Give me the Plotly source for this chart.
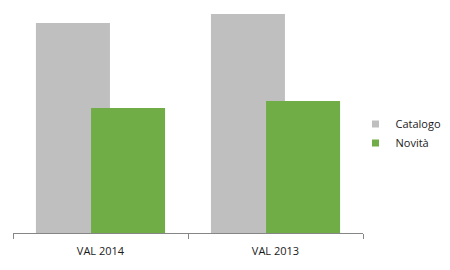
import plotly.graph_objects as go

categories = ["VAL 2014", "VAL 2013"]
catalogo = [210, 219]
novita = [125, 132]
series_names = ["Catalogo", "Novità"]
colors = ["#BFBFBF", "#70AD47"]

fig = go.Figure()
fig.add_trace(go.Bar(x=categories, y=catalogo, name=series_names[0],
                     marker=dict(color=colors[0], line=dict(width=0)),
                     offset=-0.369, width=0.423, showlegend=False))
fig.add_trace(go.Bar(x=categories, y=novita, name=series_names[1],
                     marker=dict(color=colors[1], line=dict(width=0)),
                     offset=-0.054, width=0.423, showlegend=False))
for n, c in zip(series_names, colors):
    fig.add_trace(go.Scatter(x=[None], y=[None], mode="markers", name=n,
                             marker=dict(symbol="square", size=7, color=c),
                             showlegend=True))

fig.update_layout(
    width=450, height=270,
    margin=dict(l=13, r=87, t=5, b=37, autoexpand=False),
    paper_bgcolor="white", plot_bgcolor="white",
    barmode="overlay",
    font=dict(family="Open Sans", size=11, color="#1a1a1a"),
    legend=dict(xref="container", yref="container", x=0.79, xanchor="left",
                y=0.506, yanchor="middle",
                font=dict(size=11), itemwidth=30, tracegroupgap=0),
    xaxis=dict(type="category", range=[-0.5, 1.5], showline=True,
               linecolor="#868686", linewidth=1, ticks="outside",
               tickson="boundaries", ticklen=5, tickcolor="#868686",
               ticklabelstandoff=8,
               showgrid=False, zeroline=False, fixedrange=True),
    yaxis=dict(range=[0, 228], visible=False, showgrid=False, zeroline=False),
)

fig.write_html("out.html")
